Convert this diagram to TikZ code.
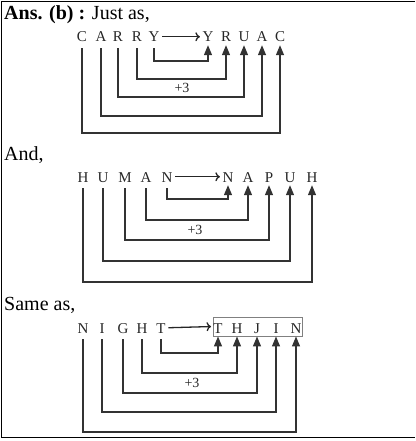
\documentclass[tikz,border=0pt]{standalone}
\usepackage{fontspec}
\setmainfont{Liberation Serif}
\usetikzlibrary{arrows.meta}
\begin{document}
\begin{tikzpicture}[x=1pt,y=-1pt,
  ltr/.style={font=\fontsize{15}{15}\selectfont, inner xsep=2.5pt, inner ysep=3pt,
    text height=10.5pt, text depth=0pt, anchor=base, text=black!85},
  head/.style={anchor=base west, inner sep=0pt, font=\fontsize{20}{20}\selectfont},
  plus/.style={font=\fontsize{14}{14}\selectfont, inner sep=0pt, text=black!85},
  link/.style={draw=black!80, line width=1.3pt, shorten <=3pt,
    -{Triangle[length=10pt,width=8pt]}},
  harr/.style={draw=black!85, line width=1.3pt, -{To[length=4.5pt,width=9pt]}},
  frame/.style={draw=black, line width=1.5pt}]
\useasboundingbox (0,0) rectangle (415,441);
\draw[frame] (415,1.5) -- (1.5,1.5) -- (1.5,437.5) -- (415,437.5);

% ---------- Section 1 ----------
\node[head] (h1) at (4,20) {\textbf{Ans. (b) :} Just as,};
\node[ltr] (a1) at (82,42) {C};
\node[ltr] (a2) at (101,42) {A};
\node[ltr] (a3) at (118,42) {R};
\node[ltr] (a4) at (137,42) {R};
\node[ltr] (a5) at (154,42) {Y};
\node[ltr] (b1) at (208,42) {Y};
\node[ltr] (b2) at (226,42) {R};
\node[ltr] (b3) at (244,42) {U};
\node[ltr] (b4) at (262,42) {A};
\node[ltr] (b5) at (280,42) {C};
\draw[harr] (a5.east) -- (b1.west);
\coordinate (l11) at (0,61);
\coordinate (l12) at (0,79);
\coordinate (l13) at (0,97);
\coordinate (l14) at (0,116);
\coordinate (l15) at (0,133);
\draw[link] (a5.south) -- (a5.south |- l11) -| (b1.south);
\draw[link] (a4.south) -- (a4.south |- l12) -| (b2.south);
\draw[link] (a3.south) -- (a3.south |- l13) -| (b3.south);
\draw[link] (a2.south) -- (a2.south |- l14) -| (b4.south);
\draw[link] (a1.south) -- (a1.south |- l15) -| (b5.south);
\node[plus] (p1) at (182,88) {+3};

% ---------- Section 2 ----------
\node[head] (h2) at (4,160) {And,};
\node[ltr] (c1) at (83,182) {H};
\node[ltr] (c2) at (103,182) {U};
\node[ltr] (c3) at (125,182) {M};
\node[ltr] (c4) at (146,182) {A};
\node[ltr] (c5) at (167,182) {N};
\node[ltr] (d1) at (228,182) {N};
\node[ltr] (d2) at (248,182) {A};
\node[ltr] (d3) at (269,182) {P};
\node[ltr] (d4) at (290,182) {U};
\node[ltr] (d5) at (312,182) {H};
\draw[harr] (c5.east) -- (d1.west);
\coordinate (l21) at (0,199);
\coordinate (l22) at (0,220);
\coordinate (l23) at (0,240);
\coordinate (l24) at (0,261);
\coordinate (l25) at (0,282);
\draw[link] (c5.south) -- (c5.south |- l21) -| (d1.south);
\draw[link] (c4.south) -- (c4.south |- l22) -| (d2.south);
\draw[link] (c3.south) -- (c3.south |- l23) -| (d3.south);
\draw[link] (c2.south) -- (c2.south |- l24) -| (d4.south);
\draw[link] (c1.south) -- (c1.south |- l25) -| (d5.south);
\node[plus] (p2) at (195,230) {+3};

% ---------- Section 3 ----------
\node[head] (h3) at (4,310) {Same as,};
\node[ltr] (e1) at (83,333) {N};
\node[ltr] (e2) at (102,333) {I};
\node[ltr] (e3) at (123,333) {G};
\node[ltr] (e4) at (142,333) {H};
\node[ltr] (e5) at (161,333) {T};
\node[draw=black!50, line width=0.9pt, minimum width=89pt, minimum height=19pt,
  inner sep=0pt] (box) at (257.5,326.5) {};
\node[ltr] (f1) at (218,333) {T};
\node[ltr] (f2) at (237,333) {H};
\node[ltr] (f3) at (257,333) {J};
\node[ltr] (f4) at (276,333) {I};
\node[ltr] (f5) at (296,333) {N};
\draw[harr, shorten >=1.5pt] (e5.east) -- (box.west);
\coordinate (l31) at (0,353);
\coordinate (l32) at (0,373);
\coordinate (l33) at (0,393);
\coordinate (l34) at (0,412);
\coordinate (l35) at (0,432);
\draw[link] (e5.south) -- (e5.south |- l31) -| (f1.south |- box.south);
\draw[link] (e4.south) -- (e4.south |- l32) -| (f2.south |- box.south);
\draw[link] (e3.south) -- (e3.south |- l33) -| (f3.south |- box.south);
\draw[link] (e2.south) -- (e2.south |- l34) -| (f4.south |- box.south);
\draw[link] (e1.south) -- (e1.south |- l35) -| (f5.south |- box.south);
\node[plus] (p3) at (192,383) {+3};
\end{tikzpicture}
\end{document}
